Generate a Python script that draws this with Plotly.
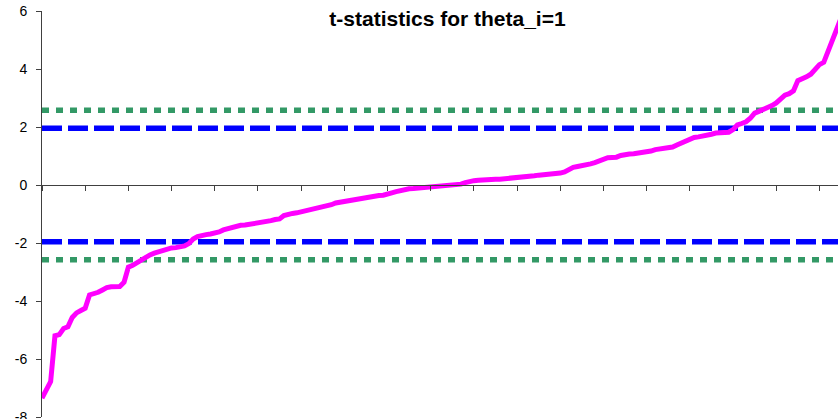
import plotly.graph_objects as go

# sorted t-statistics (rank order)
t_stats = [
    -7.35, -7.05, -6.78, -5.20, -5.16, -4.95, -4.89, -4.57, -4.41, -4.33,
    -4.25, -3.79, -3.75, -3.70, -3.62, -3.54, -3.51, -3.51, -3.50, -3.35,
    -2.83, -2.77, -2.68, -2.56, -2.46, -2.41, -2.35, -2.30, -2.25, -2.20,
    -2.17, -2.16, -2.14, -2.10, -2.02, -1.86, -1.78, -1.73, -1.71, -1.69,
    -1.67, -1.62, -1.55, -1.50, -1.45, -1.40, -1.39, -1.38, -1.36, -1.34,
    -1.32, -1.30, -1.28, -1.23, -1.19, -1.17, -1.05, -1.00, -0.98, -0.96,
    -0.93, -0.87, -0.84, -0.81, -0.78, -0.76, -0.74, -0.68, -0.62, -0.59,
    -0.56, -0.54, -0.51, -0.48, -0.45, -0.42, -0.40, -0.37, -0.36, -0.35,
    -0.33, -0.27, -0.23, -0.19, -0.16, -0.13, -0.12, -0.11, -0.10, -0.09,
    -0.08, -0.07, -0.06, -0.05, -0.04, -0.03, -0.02, 0.03, 0.08, 0.13,
    0.15, 0.16, 0.18, 0.18, 0.19, 0.20, 0.20, 0.21, 0.22, 0.24,
    0.26, 0.28, 0.30, 0.31, 0.32, 0.34, 0.35, 0.36, 0.38, 0.39,
    0.41, 0.45, 0.53, 0.61, 0.64, 0.66, 0.70, 0.73, 0.77, 0.83,
    0.90, 0.94, 0.95, 0.96, 1.02, 1.06, 1.07, 1.08, 1.10, 1.11,
    1.12, 1.17, 1.22, 1.24, 1.26, 1.27, 1.31, 1.38, 1.45, 1.51,
    1.58, 1.64, 1.66, 1.68, 1.71, 1.75, 1.79, 1.80, 1.81, 1.82,
    1.91, 2.07, 2.12, 2.18, 2.30, 2.48, 2.54, 2.60, 2.66, 2.74,
    2.83, 2.95, 3.10, 3.15, 3.25, 3.60, 3.65, 3.73, 3.82, 4.00,
    4.15, 4.23, 4.60, 4.98, 5.40, 5.75,
]
ranks = list(range(len(t_stats)))

crit_5pct = [1.96, -1.96]
crit_1pct = [2.576, -2.576]

title_text = "t-statistics for theta_i=1"
y_ticks = [-8, -6, -4, -2, 0, 2, 4, 6]

X_MAX = 184.3
FONT = "Arial, 'Liberation Sans', sans-serif"

W, H = 838, 419

fig = go.Figure()

for c in crit_1pct:
    fig.add_trace(go.Scatter(
        x=[0, X_MAX], y=[c, c], mode="lines",
        line=dict(color="#339966", width=5.5, dash="7px,7px"),
        hoverinfo="skip", showlegend=False, cliponaxis=False))
for c in crit_5pct:
    fig.add_trace(go.Scatter(
        x=[0, X_MAX], y=[c, c], mode="lines",
        line=dict(color="#0000FF", width=5.5, dash="20px,6px"),
        hoverinfo="skip", showlegend=False, cliponaxis=False))

fig.add_trace(go.Scatter(
    x=ranks, y=t_stats, mode="lines",
    line=dict(color="#FF00FF", width=5),
    showlegend=False))

fig.update_layout(
    width=W, height=H,
    margin=dict(l=42, r=0, t=11, b=2, autoexpand=False),
    paper_bgcolor="white", plot_bgcolor="white",
    font=dict(family=FONT, color="black", size=14),
    title=dict(text="<b>" + title_text + "</b>", x=447.5 / W, xref="container",
               xanchor="center", y=1 - 19 / H, yref="container", yanchor="middle",
               font=dict(family=FONT, size=21, color="black")),
    showlegend=False,
)

fig.update_xaxes(
    range=[0, X_MAX], showgrid=False, zeroline=False, automargin=False,
    showline=True, linecolor="#404040", linewidth=1,
    ticks="outside", ticklen=5, tickcolor="#404040", tickwidth=1,
    tick0=0, dtick=10, showticklabels=False,
    anchor="free", position=8 / 14,
)
fig.update_yaxes(
    range=[-8, 6], showgrid=False, zeroline=False, automargin=False,
    showline=True, linecolor="#404040", linewidth=1,
    ticks="outside", ticklen=5, tickcolor="#404040", tickwidth=1,
    tickvals=y_ticks, ticktext=[str(v) for v in y_ticks],
    tickfont=dict(family=FONT, size=14, color="black"),
    ticklabelstandoff=6, ticklabeloverflow="allow",
)

fig.write_html(
    "out.html",
    config={"displayModeBar": False},
    post_script="document.body.style.margin='0';document.body.style.overflow='hidden';",
)
